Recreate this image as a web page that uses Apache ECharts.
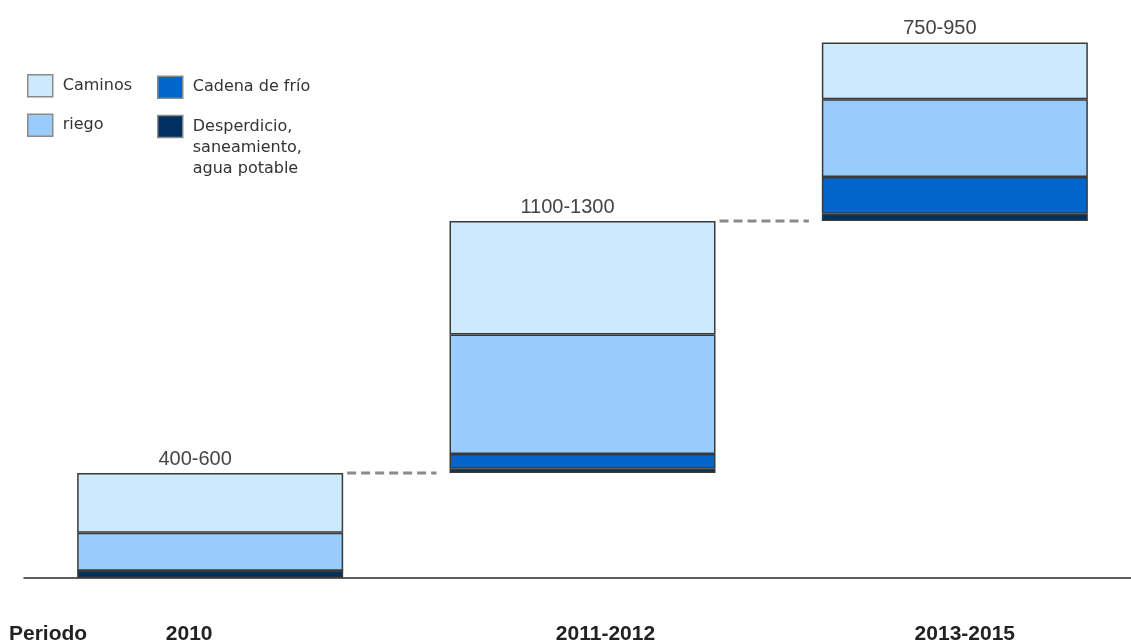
<!DOCTYPE html>
<html>
<head>
<meta charset="utf-8">
<script src="https://cdn.jsdelivr.net/npm/echarts@6/dist/echarts.min.js"></script>
<style>
  html, body { margin: 0; padding: 0; background: #fff; }
  #main { width: 1131px; height: 642px; }
</style>
</head>
<body>
<div id="main"></div>
<script>
// periods and ranges
const categories = ['2010', '2011-2012', '2013-2015'];
const rangeLabels = ['400-600', '1100-1300', '750-950'];

// segment values per period (millones)
const caminos = [285, 540, 270];
const riego = [180, 570, 370];
const cadena = [0, 70, 175];
const desperdicio = [35, 20, 35];

const DESP_NAME = 'Desperdicio,\nsaneamiento,\nagua potable';

const totals = categories.map((c, i) => caminos[i] + riego[i] + cadena[i] + desperdicio[i]);
// waterfall: each period starts where the previous one ended
const bases = [];
let acc = 0;
totals.forEach((t) => { bases.push(acc); acc += t; });
const connectors = totals.slice(0, -1).map((t, i) => [i, bases[i] + t]);

const BAR_W = 266;
const border = { borderColor: '#3a3a3a', borderWidth: 1.5 };
const legendText = { fontFamily: 'DejaVu Sans', fontSize: 16, color: '#333', padding: [2, 0, 0, 5] };

const chart = echarts.init(document.getElementById('main'));

const option = {
  animation: false,
  grid: { left: 24, right: -10, top: 32, bottom: 64, outerBoundsMode: 'none', containLabel: false },
  legend: [
    {
      orient: 'vertical',
      left: 27,
      top: 74,
      padding: 0,
      itemWidth: 25,
      itemHeight: 22,
      itemGap: 16,
      icon: 'rect',
      itemStyle: { borderColor: '#8a8a8a', borderWidth: 1.5 },
      textStyle: legendText,
      data: ['Caminos', 'riego']
    },
    {
      orient: 'vertical',
      left: 157,
      top: 74,
      padding: 0,
      itemWidth: 25,
      itemHeight: 22,
      itemGap: -25,
      icon: 'rect',
      itemStyle: { borderColor: '#8a8a8a', borderWidth: 1.5 },
      textStyle: legendText,
      // two blank lines so the first line sits level with the icon
      formatter: (name) => (name === DESP_NAME ? '\n\n' + name : name),
      data: [
        'Cadena de frío',
        { name: DESP_NAME, textStyle: { lineHeight: 21, padding: [0, 0, 0, 5] } }
      ]
    }
  ],
  graphic: [
    {
      type: 'text',
      left: 9,
      top: 624,
      style: { text: 'Periodo', font: 'bold 21px "Liberation Sans", Arial, sans-serif', fill: '#222' }
    }
  ],
  xAxis: {
    type: 'category',
    data: categories,
    axisTick: { show: false },
    axisLine: { lineStyle: { color: '#2a2a2a', width: 1.5 } },
    axisLabel: {
      margin: 46,
      formatter: (v, i) => `{l${i}|${v}}`,
      rich: {
        l0: { padding: [0, 42, 0, 0], fontSize: 21, fontWeight: 'bold', color: '#222', fontFamily: 'Liberation Sans' },
        l1: { padding: [0, 0, 0, 46], fontSize: 21, fontWeight: 'bold', color: '#222', fontFamily: 'Liberation Sans' },
        l2: { padding: [0, 0, 0, 20], fontSize: 21, fontWeight: 'bold', color: '#222', fontFamily: 'Liberation Sans' }
      }
    }
  },
  yAxis: {
    type: 'value',
    min: 0,
    max: 2600,
    show: false,
    splitLine: { show: false }
  },
  series: [
    {
      name: 'base',
      type: 'bar',
      stack: 'w',
      barWidth: BAR_W,
      itemStyle: { color: 'transparent' },
      silent: true,
      data: bases
    },
    {
      name: DESP_NAME,
      type: 'bar',
      stack: 'w',
      barWidth: BAR_W,
      itemStyle: Object.assign({ color: '#00305f' }, border),
      data: desperdicio
    },
    {
      name: 'Cadena de frío',
      type: 'bar',
      stack: 'w',
      barWidth: BAR_W,
      itemStyle: Object.assign({ color: '#0066cc' }, border),
      data: cadena
    },
    {
      name: 'riego',
      type: 'bar',
      stack: 'w',
      barWidth: BAR_W,
      itemStyle: Object.assign({ color: '#99cbfb' }, border),
      data: riego
    },
    {
      name: 'Caminos',
      type: 'bar',
      stack: 'w',
      barWidth: BAR_W,
      itemStyle: Object.assign({ color: '#cde9fc' }, border),
      label: {
        show: true,
        position: 'top',
        distance: 4,
        offset: [-15, 0],
        formatter: (p) => rangeLabels[p.dataIndex],
        fontFamily: 'Liberation Sans',
        fontSize: 20,
        color: '#444'
      },
      data: caminos
    },
    {
      name: 'conector',
      type: 'custom',
      silent: true,
      renderItem: (params, api) => {
        const p = api.coord([api.value(0), api.value(1)]);
        const band = api.size([1, 0])[0];
        return {
          type: 'line',
          shape: { x1: p[0] + BAR_W / 2 + 4, y1: p[1], x2: p[0] + band - BAR_W / 2 - 13, y2: p[1] },
          style: { stroke: '#8a8a8a', lineWidth: 3, lineDash: [9, 5] }
        };
      },
      data: connectors
    }
  ]
};

chart.setOption(option);
</script>
</body>
</html>
